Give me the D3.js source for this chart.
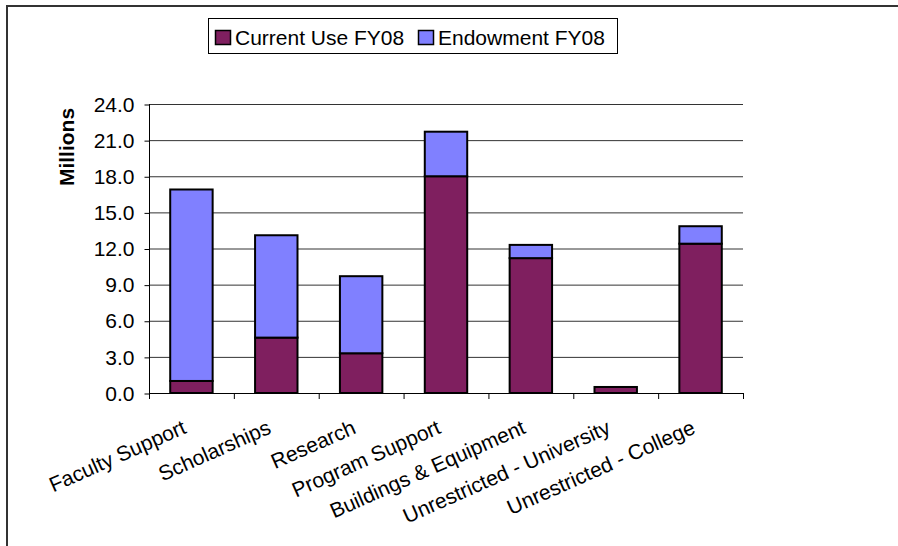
<!DOCTYPE html>
<html>
<head>
<meta charset="utf-8">
<script src="https://cdn.jsdelivr.net/npm/d3@7"></script>
<style>
    html, body { margin: 0; background: #fff; overflow: hidden; }
    svg { display: block; }
    svg text { font-family: "Liberation Sans", Arial, sans-serif; fill: #000; }
</style>
</head>
<body>
<div id="chart"></div>
<script>
(function()
{
    "use strict";

    // data (millions)
    var categories = ["Faculty Support", "Scholarships", "Research", "Program Support",
                      "Buildings & Equipment", "Unrestricted - University", "Unrestricted - College"];
    var currentUse = [1.0, 4.6, 3.3, 18.0, 11.2, 0.5, 12.4];
    var endowment  = [15.9, 8.5, 6.4, 3.7, 1.1, 0.0, 1.45];
    var seriesNames = ["Current Use FY08", "Endowment FY08"];
    var seriesColors = ["#7f1f5f", "#8080ff"];
    var yTicks = [0, 3, 6, 9, 12, 15, 18, 21, 24];

    var width = 898, height = 546;
    var plot = {left: 149, right: 743, top: 104, bottom: 393};

    var svg = d3.select("#chart").append("svg")
                .attr("width", width)
                .attr("height", height);

    // outer chart border: only left and top edges fall inside the picture
    svg.append("path")
       .attr("d", "M7," + height + "V6H" + width)
       .attr("fill", "none")
       .attr("stroke", "#333")
       .attr("stroke-width", 2);

    // #########################################################################
    var xScale = d3.scaleBand()
                .domain(categories)
                .range([plot.left, plot.right])
                .paddingInner(0.5)
                .paddingOuter(0.25);

    var yScale = d3.scaleLinear()
                .domain([0, 24])
                .range([plot.bottom, plot.top]);
    // #########################################################################

    // gridlines
    svg.append("g")
       .selectAll("line")
       .data(yTicks.slice(1))
       .enter().append("line")
       .attr("x1", plot.left).attr("x2", plot.right)
       .attr("y1", function(d) { return yScale(d) + 0.5; })
       .attr("y2", function(d) { return yScale(d) + 0.5; })
       .attr("stroke", "#333")
       .attr("stroke-width", 1);

    // stacked bars
    var stackData = categories.map(function(c, i) {
        return {cat: c, current: currentUse[i], endow: endowment[i]};
    });
    var stack = d3.stack().keys(["current", "endow"])(stackData);

    svg.append("g")
       .selectAll("g")
       .data(stack)
       .enter().append("g")
       .attr("fill", function(d, i) { return seriesColors[i]; })
       .selectAll("rect")
       .data(function(d) { return d.filter(function(p) { return p[1] - p[0] > 0; }); })
       .enter().append("rect")
       .attr("x", function(d) { return xScale(d.data.cat); })
       .attr("y", function(d) { return yScale(d[1]); })
       .attr("width", xScale.bandwidth())
       .attr("height", function(d) { return yScale(d[0]) - yScale(d[1]); })
       .attr("stroke", "#000")
       .attr("stroke-width", 2);

    // y axis
    var yAxis = d3.axisLeft(yScale)
                  .tickValues(yTicks)
                  .tickFormat(d3.format(".1f"))
                  .tickSize(5)
                  .tickPadding(10);

    var yg = svg.append("g")
       .attr("transform", "translate(" + (plot.left + 0.5) + ",0.5)")
       .call(yAxis);
    yg.select(".domain").attr("stroke", "#000").attr("d", "M0," + (plot.top - 0.5) + "V" + (plot.bottom - 0.5));
    yg.selectAll(".tick line").attr("stroke", "#000");
    yg.selectAll("text").attr("font-size", "21px").attr("font-family", "Liberation Sans, Arial, sans-serif");

    // x axis: line + boundary ticks
    var xg = svg.append("g");
    xg.append("line")
      .attr("x1", plot.left).attr("x2", plot.right)
      .attr("y1", plot.bottom + 0.5).attr("y2", plot.bottom + 0.5)
      .attr("stroke", "#000");
    var step = xScale.step();
    xg.selectAll(".xt")
      .data(d3.range(categories.length + 1))
      .enter().append("line")
      .attr("class", "xt")
      .attr("x1", function(i) { return plot.left + i * step + 0.5; })
      .attr("x2", function(i) { return plot.left + i * step + 0.5; })
      .attr("y1", plot.bottom)
      .attr("y2", plot.bottom + 6)
      .attr("stroke", "#000");

    // rotated category labels
    xg.selectAll(".xl")
      .data(categories)
      .enter().append("text")
      .attr("class", "xl")
      .attr("transform", function(d) {
          return "translate(" + (xScale(d) + xScale.bandwidth() / 2 - 10) + "," + 419 + ") rotate(-24)";
      })
      .attr("text-anchor", "end")
      .attr("dy", "0.71em")
      .attr("font-size", "21px")
      .text(function(d) { return d; });

    // y axis title
    svg.append("text")
       .attr("transform", "translate(74,147) rotate(-90)")
       .attr("text-anchor", "middle")
       .attr("font-size", "21px")
       .attr("font-weight", "bold")
       .text("Millions");

    // legend
    var legend = svg.append("g");
    legend.append("rect")
          .attr("x", 208.5).attr("y", 18.5)
          .attr("width", 409).attr("height", 35)
          .attr("fill", "#fff")
          .attr("stroke", "#000");
    var legendX = [215, 418];
    var items = legend.selectAll(".li")
          .data(seriesNames)
          .enter().append("g")
          .attr("class", "li")
          .attr("transform", function(d, i) { return "translate(" + legendX[i] + ",30)"; });
    items.append("rect")
         .attr("x", 0.5).attr("y", 0.5)
         .attr("width", 15).attr("height", 14)
         .attr("fill", function(d, i) { return seriesColors[i]; })
         .attr("stroke", "#000")
         .attr("stroke-width", 1.5);
    items.append("text")
         .attr("x", 20).attr("y", 15)
         .attr("font-size", "21px")
         .text(function(d) { return d; });
})();
</script>
</body>
</html>
